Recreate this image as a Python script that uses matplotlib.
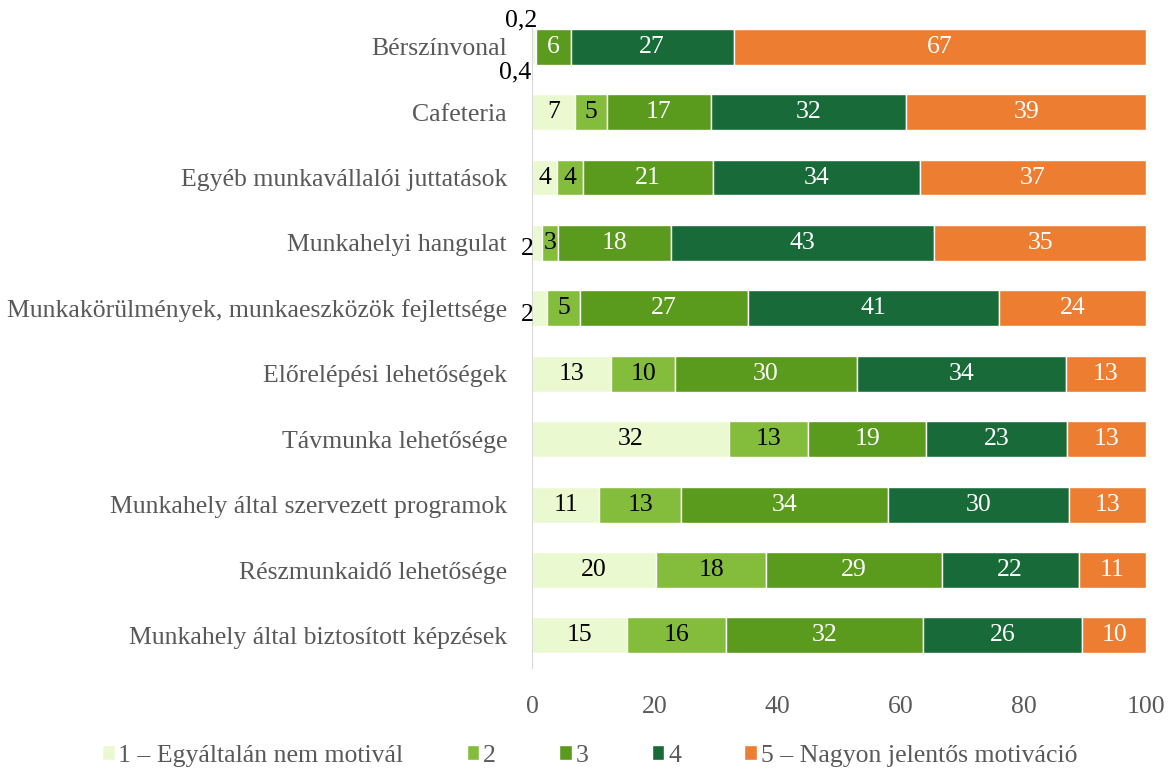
import numpy as np
import matplotlib
matplotlib.use("Agg")
import matplotlib.pyplot as plt

plt.rcParams['font.family'] = ['Liberation Serif', 'DejaVu Serif']

categories = [
    "Bérszínvonal",
    "Cafeteria",
    "Egyéb munkavállalói juttatások",
    "Munkahelyi hangulat",
    "Munkakörülmények, munkaeszközök fejlettsége",
    "Előrelépési lehetőségek",
    "Távmunka lehetősége",
    "Munkahely által szervezett programok",
    "Részmunkaidő lehetősége",
    "Munkahely által biztosított képzések",
]

# share of answers (%), per motivation level
level1 = [0.4, 7.0, 4.1, 1.6, 2.4, 12.9, 32.1, 10.9, 20.2, 15.4]
level2 = [0.2, 5.2, 4.2, 2.6, 5.4, 10.4, 12.9, 13.4, 17.9, 16.1]
level3 = [5.7, 16.9, 21.2, 18.4, 27.4, 29.6, 19.1, 33.7, 28.6, 32.2]
level4 = [26.5, 31.8, 33.6, 42.9, 40.9, 34.0, 23.0, 29.5, 22.3, 25.9]
level5 = [67.2, 39.1, 36.9, 34.5, 23.9, 13.1, 12.9, 12.5, 11.0, 10.4]

series_names = ["1 – Egyáltalán nem motivál", "2", "3", "4",
                "5 – Nagyon jelentős motiváció"]
colors = ["#EBF9D1", "#84BC3C", "#5A9A1C", "#186B38", "#ED7D31"]
text_colors = ["black", "black", "white", "white", "white"]

data = [level1, level2, level3, level4, level5]
FS = 18.5


def fmt(v):
    if v < 1:
        return ("%.1f" % v).replace(".", ",")
    return str(int(np.floor(v + 0.5)))


fig = plt.figure(figsize=(11.72, 7.76), dpi=100)
ax = fig.add_axes([0.454, 0.139, 0.524, 0.843])

y = np.arange(len(categories))
left = np.zeros(len(categories))
for i, vals in enumerate(data):
    vals = np.array(vals)
    ax.barh(y, vals, left=left, height=0.55, color=colors[i],
            edgecolor="white", linewidth=1, label=series_names[i])
    for j, v in enumerate(vals):
        cx = left[j] + v / 2
        if v < 1:
            # tiny segments: label outside the bar
            if i == 0:
                ax.text(-0.2, j + 0.4, fmt(v), ha="right", va="center",
                        fontsize=FS, color="black")
            else:
                ax.text(0.8, j - 0.4, fmt(v), ha="right", va="center",
                        fontsize=FS, color="black")
        elif i == 0 and v < 3:
            ax.text(0.2, j + 0.1, fmt(v), ha="right", va="center",
                    fontsize=FS, color="black")
        else:
            ax.text(cx, j, fmt(v), ha="center", va="center",
                    fontsize=FS, color=text_colors[i])
    left += vals

ax.set_xlim(0, 100)
ax.set_ylim(len(categories) - 0.5, -0.5)
ax.set_xticks([0, 20, 40, 60, 80, 100])
ax.set_yticks(y)
ax.set_yticklabels(categories)
ax.tick_params(axis="both", length=0, labelsize=FS, labelcolor="#595959")
ax.tick_params(axis="x", pad=20)
ax.tick_params(axis="y", pad=18)
for s in ["top", "right", "bottom"]:
    ax.spines[s].set_visible(False)
ax.spines["left"].set_color("#D9D9D9")
ax.spines["left"].set_bounds(9.5, -0.29)

fig.legend(loc="lower center", bbox_to_anchor=(0.503, -0.018), ncol=5,
           frameon=False, fontsize=FS, labelcolor="#595959",
           handlelength=0.5, handleheight=0.5, handletextpad=0.15,
           columnspacing=2.45)

fig.savefig("out.png", dpi=100)
